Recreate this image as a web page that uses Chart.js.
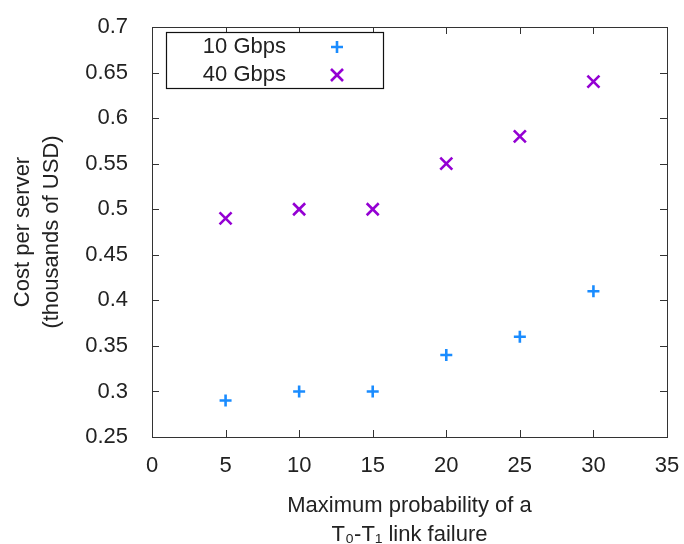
<!DOCTYPE html>
<html>
<head>
<meta charset="utf-8">
<script src="https://cdn.jsdelivr.net/npm/chart.js@4/dist/chart.umd.min.js"></script>
<style>
  body { margin: 0; background: #fff; }
  canvas { display: block; }
</style>
</head>
<body>
<canvas id="costChart" width="684" height="544"></canvas>
<script>
// data
const failureProb = [5, 10, 15, 20, 25, 30];
const cost10G = [0.29, 0.30, 0.30, 0.34, 0.36, 0.41];
const cost40G = [0.49, 0.50, 0.50, 0.55, 0.58, 0.64];
const seriesNames = ['10 Gbps', '40 Gbps'];
const xTicks = [0, 5, 10, 15, 20, 25, 30, 35];
const yTicks = [0.25, 0.3, 0.35, 0.4, 0.45, 0.5, 0.55, 0.6, 0.65, 0.7];

const FONT = 'Liberation Sans, Arial, sans-serif';
const INK = '#222';
const FS = 22;

function toPoints(ys) {
    return failureProb.map((x, i) => ({ x: x, y: ys[i] }));
}

// frame with inward ticks on all four sides (gnuplot look)
const framePlugin = {
    id: 'frame',
    afterDatasetsDraw(chart) {
        const { ctx, chartArea: a, scales } = chart;
        const len = 7;
        ctx.save();
        ctx.strokeStyle = '#333';
        ctx.lineWidth = 1;
        ctx.beginPath();
        scales.x.ticks.forEach(t => {
            const px = Math.round(scales.x.getPixelForValue(t.value)) + 0.5;
            ctx.moveTo(px, a.bottom); ctx.lineTo(px, a.bottom - len);
            ctx.moveTo(px, a.top); ctx.lineTo(px, a.top + len);
        });
        scales.y.ticks.forEach(t => {
            const py = Math.round(scales.y.getPixelForValue(t.value)) + 0.5;
            ctx.moveTo(a.left, py); ctx.lineTo(a.left + len, py);
            ctx.moveTo(a.right, py); ctx.lineTo(a.right - len, py);
        });
        ctx.stroke();
        ctx.strokeRect(Math.round(a.left) + 0.5, Math.round(a.top) + 0.5,
            Math.round(a.right - a.left), Math.round(a.bottom - a.top));
        ctx.restore();
    }
};

// boxed legend inside the top left corner
const legendPlugin = {
    id: 'boxLegend',
    afterDraw(chart) {
        const { ctx, chartArea: a } = chart;
        const bx = a.left + 14, by = a.top + 5, bw = 217, bh = 56;
        ctx.save();
        ctx.fillStyle = '#fff';
        ctx.fillRect(bx, by, bw, bh);
        ctx.strokeStyle = '#111';
        ctx.lineWidth = 1.2;
        ctx.strokeRect(bx + 0.5, by + 0.5, bw, bh);
        ctx.font = FS + 'px ' + FONT;
        ctx.fillStyle = INK;
        ctx.textAlign = 'right';
        ctx.textBaseline = 'middle';
        chart.data.datasets.forEach((ds, i) => {
            const y = by + 15 + i * 28;
            ctx.fillText(ds.label, bx + 120, y);
            ctx.strokeStyle = ds.borderColor;
            ctx.lineWidth = ds.borderWidth;
            Chart.helpers.drawPoint(ctx, {
                pointStyle: ds.pointStyle,
                radius: ds.pointRadius,
                borderWidth: ds.borderWidth,
                rotation: 0
            }, bx + 171, y);
        });
        ctx.restore();
    }
};

const ctx = document.getElementById('costChart').getContext('2d');
new Chart(ctx, {
    type: 'scatter',
    data: {
        datasets: [{
            label: seriesNames[0],
            data: toPoints(cost10G),
            pointStyle: 'cross',
            pointRadius: 6,
            borderWidth: 2.6,
            borderColor: '#1a8cff',
            backgroundColor: '#1a8cff'
        }, {
            label: seriesNames[1],
            data: toPoints(cost40G),
            pointStyle: 'crossRot',
            pointRadius: 8.5,
            borderWidth: 2.6,
            borderColor: '#9400d3',
            backgroundColor: '#9400d3'
        }]
    },
    options: {
        responsive: false,
        animation: false,
        layout: { padding: { top: 27, right: 17, left: 0, bottom: 0 } },
        plugins: {
            legend: { display: false },
            tooltip: { enabled: false }
        },
        scales: {
            x: {
                type: 'linear',
                min: 0,
                max: 35,
                afterBuildTicks: s => { s.ticks = xTicks.map(v => ({ value: v })); },
                afterFit: s => { s.height = 107; s.paddingLeft = 0; s.paddingRight = 0; },
                grid: { display: false, drawTicks: false },
                border: { display: false },
                ticks: {
                    padding: 16,
                    color: INK,
                    font: { family: FONT, size: FS },
                    maxRotation: 0
                },
                title: {
                    display: true,
                    text: ['Maximum probability of a', 'T\u2080-T\u2081 link failure'],
                    color: INK,
                    font: { family: FONT, size: FS, lineHeight: 1.3 },
                    padding: { top: 0, bottom: -5 }
                }
            },
            y: {
                min: 0.25,
                max: 0.7,
                afterBuildTicks: s => { s.ticks = yTicks.map(v => ({ value: v })); },
                afterFit: s => { s.width = 152; s.paddingTop = 0; s.paddingBottom = 0; },
                grid: { display: false, drawTicks: false },
                border: { display: false },
                ticks: {
                    padding: 24,
                    color: INK,
                    font: { family: FONT, size: FS },
                    callback: v => String(v)
                },
                title: {
                    display: true,
                    text: ['Cost per server', '(thousands of USD)'],
                    color: INK,
                    font: { family: FONT, size: FS, lineHeight: 1.3 },
                    padding: { top: 9, bottom: 0 }
                }
            }
        }
    },
    plugins: [framePlugin, legendPlugin]
});
</script>
</body>
</html>
